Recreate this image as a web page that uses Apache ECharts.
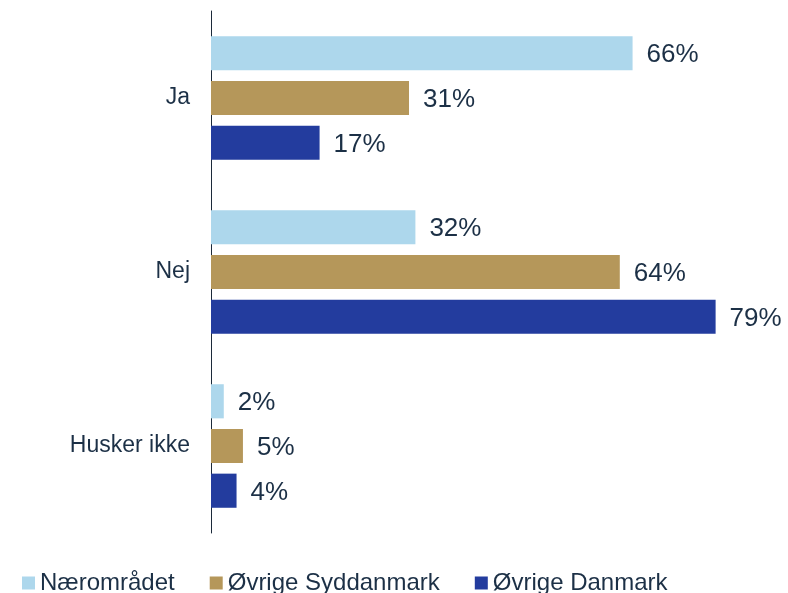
<!DOCTYPE html>
<html>
<head>
<meta charset="utf-8">
<script src="https://cdn.jsdelivr.net/npm/echarts@6/dist/echarts.min.js"></script>
<style>
  html, body { margin: 0; padding: 0; background: #fff; }
  #chart { width: 788px; height: 593px; }
</style>
</head>
<body>
<div id="chart"></div>
<script>
// answers (top to bottom)
var categories = ['Ja', 'Nej', 'Husker ikke'];
var seriesNames = ['Nærområdet', 'Øvrige Syddanmark', 'Øvrige Danmark'];

// percent per answer
var naeromraadet = [66, 32, 2];
var oevrigeSyddanmark = [31, 64, 5];
var oevrigeDanmark = [17, 79, 4];

var colors = ['#ADD7EC', '#B5975A', '#233C9E'];
var textColor = '#1C3046';
var font = 'Liberation Sans, Arial, sans-serif';

var values = [naeromraadet, oevrigeSyddanmark, oevrigeDanmark];

var series = seriesNames.map(function (name, i) {
    return {
        name: name,
        type: 'bar',
        data: values[i],
        barGap: '31%',
        barCategoryGap: '29%',
        itemStyle: { color: colors[i] },
        label: {
            show: true,
            position: 'right',
            distance: 14,
            offset: [0, 2],
            formatter: '{c}%',
            color: textColor,
            fontFamily: font,
            fontSize: 26
        }
    };
});

var option = {
    animation: false,
    color: colors,
    grid: {
        left: 211,
        right: 66,
        top: 11,
        bottom: 60,
        containLabel: false
    },
    legend: {
        data: seriesNames,
        left: 22,
        top: 571,
        icon: 'rect',
        itemWidth: 13,
        itemHeight: 13,
        itemGap: 35,
        textStyle: {
            color: textColor,
            fontFamily: font,
            fontSize: 24,
            padding: [0, 0, 0, 0]
        },
        padding: 0
    },
    xAxis: {
        type: 'value',
        min: 0,
        max: 80,
        show: false
    },
    yAxis: {
        type: 'category',
        data: categories,
        inverse: true,
        axisLine: { show: true, lineStyle: { color: '#1C2A3A', width: 1 } },
        axisTick: { show: false },
        axisLabel: {
            color: textColor,
            fontFamily: font,
            fontSize: 23,
            margin: 21,
            padding: [4, 0, 0, 0]
        }
    },
    series: series
};

var chart = echarts.init(document.getElementById('chart'));
chart.setOption(option);
</script>
</body>
</html>
